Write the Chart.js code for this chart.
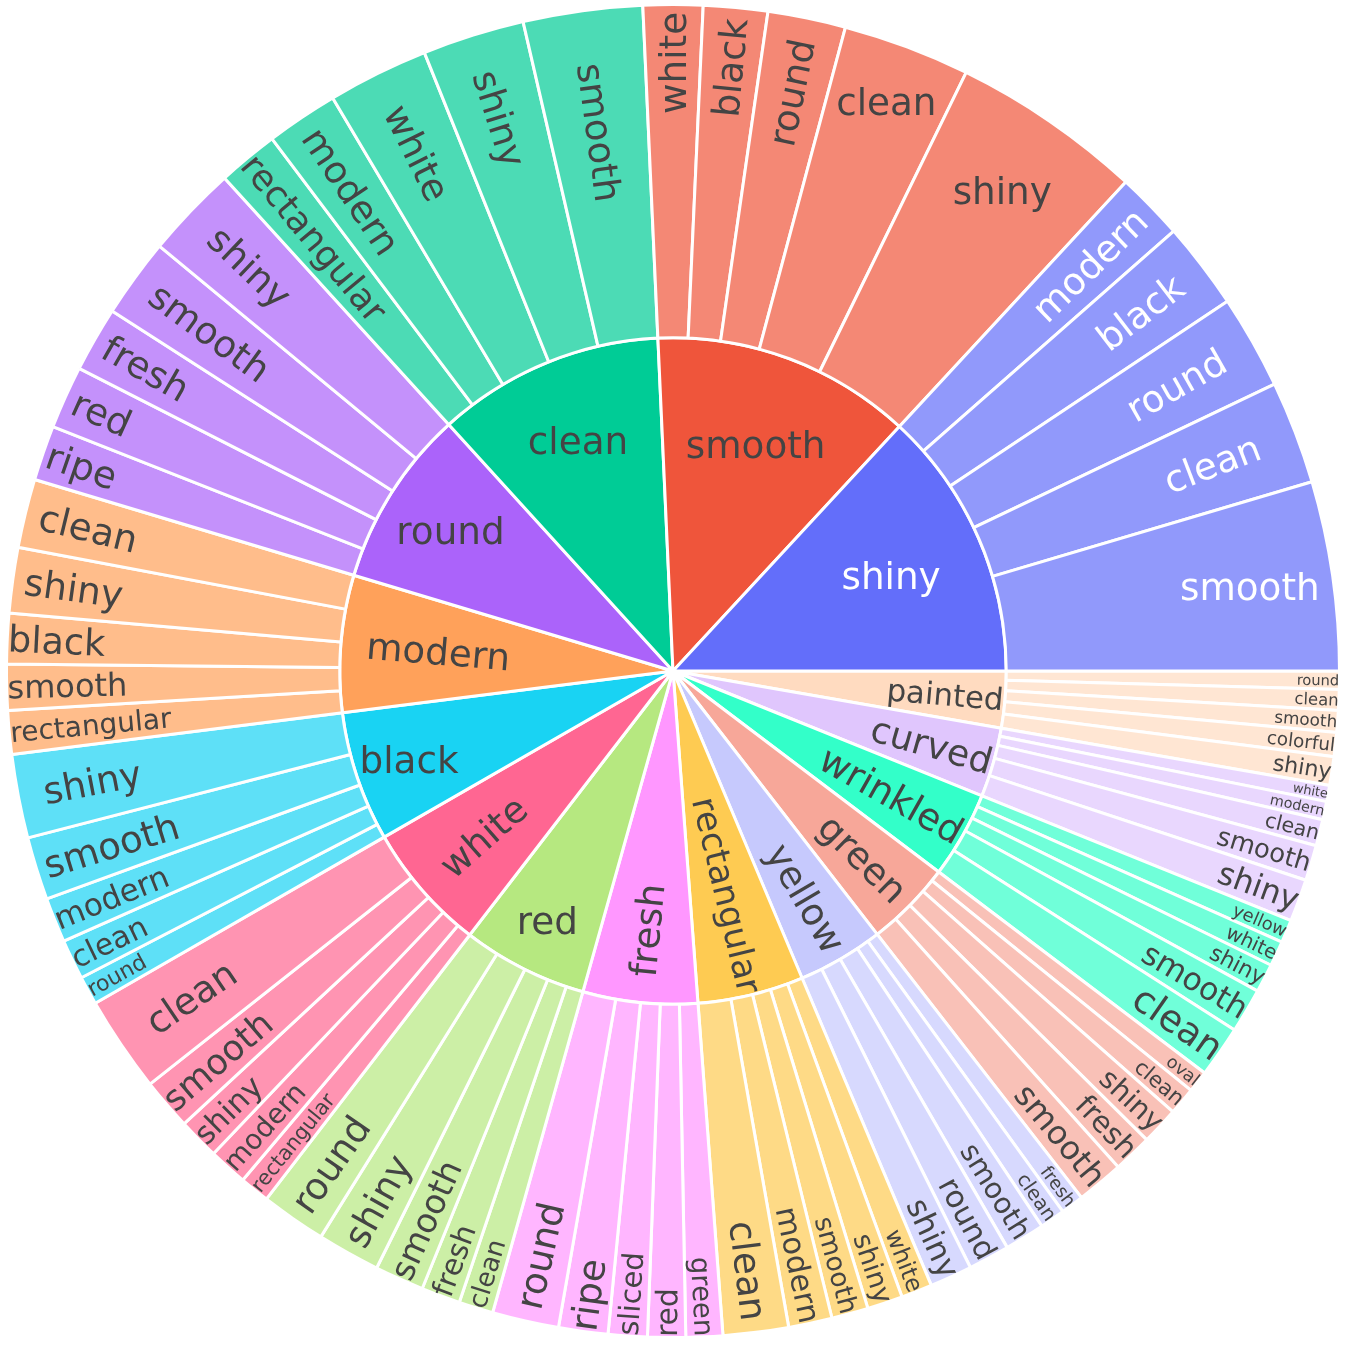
<!DOCTYPE html>
<html><head><meta charset="utf-8">
<script src="https://cdn.jsdelivr.net/npm/chart.js@4.4.1/dist/chart.umd.min.js"></script>
<style>html,body{margin:0;padding:0;background:#fff;}#wrap{width:1346px;height:1346px;}</style>
</head><body><div id="wrap"><canvas id="c" width="1346" height="1346"></canvas></div>
<script>
// ---- data (plotly-style order: counterclockwise from 3 o'clock, largest first) ----
const parentLabels = ['shiny','smooth','clean','round','modern','black','white','red','fresh','rectangular','yellow','green','wrinkled','curved','painted'];
const parentColors = ['#636efa','#EF553B','#00cc96','#ab63fa','#FFA15A','#19d3f3','#FF6692','#B6E880','#FF97FF','#FECB52','#c6c9fd','#f7a799','#33ffc9','#e0c6fd','#ffdbc0'];
const childLabels = [
  ['smooth','clean','round','black','modern'],
  ['shiny','clean','round','black','white'],
  ['smooth','shiny','white','modern','rectangular'],
  ['shiny','smooth','fresh','red','ripe'],
  ['clean','shiny','black','smooth','rectangular'],
  ['shiny','smooth','modern','clean','round'],
  ['clean','smooth','shiny','modern','rectangular'],
  ['round','shiny','smooth','fresh','clean'],
  ['round','ripe','sliced','red','green'],
  ['clean','modern','smooth','shiny','white'],
  ['shiny','round','smooth','clean','fresh'],
  ['smooth','fresh','shiny','clean','oval'],
  ['clean','smooth','shiny','white','yellow'],
  ['shiny','smooth','clean','modern','white'],
  ['shiny','colorful','smooth','clean','round']
];
const childValues = [
  [16.5, 9.0, 8.2, 7.6, 5.9],
  [16.7, 11.1, 6.8, 5.6, 5.2],
  [10.4, 8.9, 8.8, 6.3, 5.3],
  [8.1, 6.9, 5.7, 5.5, 4.8],
  [6.0, 5.7, 4.4, 4.0, 3.8],
  [7.3, 5.5, 3.9, 3.5, 2.5],
  [8.4, 4.5, 3.6, 3.4, 2.6],
  [5.7, 5.5, 4.3, 3.4, 3.0],
  [5.8, 4.3, 3.4, 3.3, 3.2],
  [5.7, 3.8, 3.2, 3.1, 2.7],
  [3.7, 3.6, 3.5, 2.2, 2.0],
  [4.1, 3.4, 3.3, 2.4, 1.9],
  [4.5, 3.9, 2.5, 2.2, 2.0],
  [3.7, 3.1, 2.3, 1.6, 1.4],
  [2.5, 2.1, 1.9, 1.8, 1.6]
];

// ---- helpers ----
function hexRgb(h){h=h.replace('#','');return [parseInt(h.substr(0,2),16),parseInt(h.substr(2,2),16),parseInt(h.substr(4,2),16)];}
function rgba(h,a){const c=hexRgb(h);return 'rgba('+c[0]+','+c[1]+','+c[2]+','+a+')';}
function textColorFor(h){const c=hexRgb(h);const b=(c[0]*299+c[1]*587+c[2]*114)/1000;return b<128?'#ffffff':'#444444';}

const parentValues = childValues.map(a=>a.reduce((s,v)=>s+v,0));

// Chart.js draws clockwise; reverse order so the result runs counterclockwise like the reference
const order = parentLabels.map((_,i)=>i).reverse();
const innerData=[],innerColors=[],innerNames=[],innerText=[];
const outerData=[],outerColors=[],outerNames=[],outerText=[];
order.forEach(i=>{
  innerData.push(parentValues[i]);innerColors.push(parentColors[i]);innerNames.push(parentLabels[i]);innerText.push(textColorFor(parentColors[i]));
  for(let j=childValues[i].length-1;j>=0;j--){
    outerData.push(childValues[i][j]);outerColors.push(rgba(parentColors[i],0.7));
    outerNames.push(childLabels[i][j]);outerText.push(textColorFor(parentColors[i]));
  }
});

// ---- plotly-like inside text fitting ----
const FONT_SIZE=37.3, FONT_FAMILY='"DejaVu Sans", Verdana, sans-serif', TEXTPAD=3;
function calcMaxHalfSize(a,half,r,ring){const q=a+1/(2*Math.tan(half));return r*Math.min(1/(Math.sqrt(q*q+0.5)+q),ring/(Math.sqrt(a*a+ring/2)+a));}
function calcRCenter(a,b){return Math.cos(b)-a*b;}
function calcRotate(t){return (180/Math.PI*t+720)%180-90;}
function fitText(w,h,span,rpx0,rpx1,pieMid){
  const half=0.5*Math.min(span,Math.PI);
  const ring=1-rpx0/rpx1;
  const full=rpx0===0&&span>=2*Math.PI-1e-6;
  const rIns=full?1:Math.max(0,Math.min(1/(1+1/Math.sin(half)),ring/2));
  const all=[];
  const diag=Math.sqrt(w*w+h*h);
  const hz={scale:rIns*rpx1*2/diag,rCenter:1-rIns,rotate:0};
  if(hz.scale>=1) return hz;
  all.push(hz);
  const r=Math.max(0,rpx1-2*TEXTPAD);
  let a=w/h, s=calcMaxHalfSize(a,half,r,ring);
  all.push({scale:s*2/h,rCenter:calcRCenter(a,s/r),rotate:calcRotate(pieMid)});
  a=h/w; s=calcMaxHalfSize(a,half,r,ring);
  all.push({scale:s*2/w,rCenter:calcRCenter(a,s/r),rotate:calcRotate(pieMid+Math.PI/2)});
  let best=all[0];
  for(const t of all){if(t.scale>best.scale)best=t;}
  return best;
}

const labelPlugin={
  id:'sunLabels',
  afterDatasetsDraw(chart){
    const ctx=chart.ctx;
    chart.data.datasets.forEach((ds,di)=>{
      const meta=chart.getDatasetMeta(di);
      meta.data.forEach((arc,k)=>{
        const p=arc.getProps(['x','y','startAngle','endAngle','innerRadius','outerRadius']);
        const name=ds.names[k];
        ctx.save();
        ctx.font=FONT_SIZE+'px '+FONT_FAMILY;
        const m=ctx.measureText(name);
        const asc=m.fontBoundingBoxAscent||FONT_SIZE*0.928, desc=m.fontBoundingBoxDescent||FONT_SIZE*0.236;
        const w=m.width,h=asc+desc;
        const span=p.endAngle-p.startAngle;
        const midC=(p.startAngle+p.endAngle)/2; // canvas angle, clockwise from 3 o'clock
        const pieMid=Math.PI/2+midC;             // clockwise from 12 o'clock
        const t=fitText(w,h,span,p.innerRadius<1?0:p.innerRadius,p.outerRadius,pieMid);
        const sc=Math.min(1,t.scale);
        const R=t.rCenter*p.outerRadius;
        const cx=p.x+R*Math.cos(midC), cy=p.y+R*Math.sin(midC);
        ctx.translate(cx,cy);
        ctx.rotate(t.rotate*Math.PI/180);
        ctx.scale(sc,sc);
        ctx.fillStyle=ds.textColors[k];
        ctx.textAlign='center';
        ctx.textBaseline='alphabetic';
        ctx.fillText(name,0,(asc-desc)/2);
        ctx.restore();
      });
    });
  }
};

new Chart(document.getElementById('c'),{
  type:'pie',
  data:{
    labels:outerNames,
    datasets:[
      {data:outerData,backgroundColor:outerColors,borderColor:'#ffffff',borderWidth:3,hoverOffset:0,offset:0,names:outerNames,textColors:outerText},
      {data:innerData,backgroundColor:innerColors,borderColor:'#ffffff',borderWidth:3,hoverOffset:0,offset:0,names:innerNames,textColors:innerText}
    ]
  },
  options:{
    responsive:false,animation:false,rotation:90,
    layout:{padding:{left:5,right:5,top:3,bottom:7}},
    events:[],
    plugins:{legend:{display:false},tooltip:{enabled:false}}
  },
  plugins:[labelPlugin]
});
</script></body></html>
